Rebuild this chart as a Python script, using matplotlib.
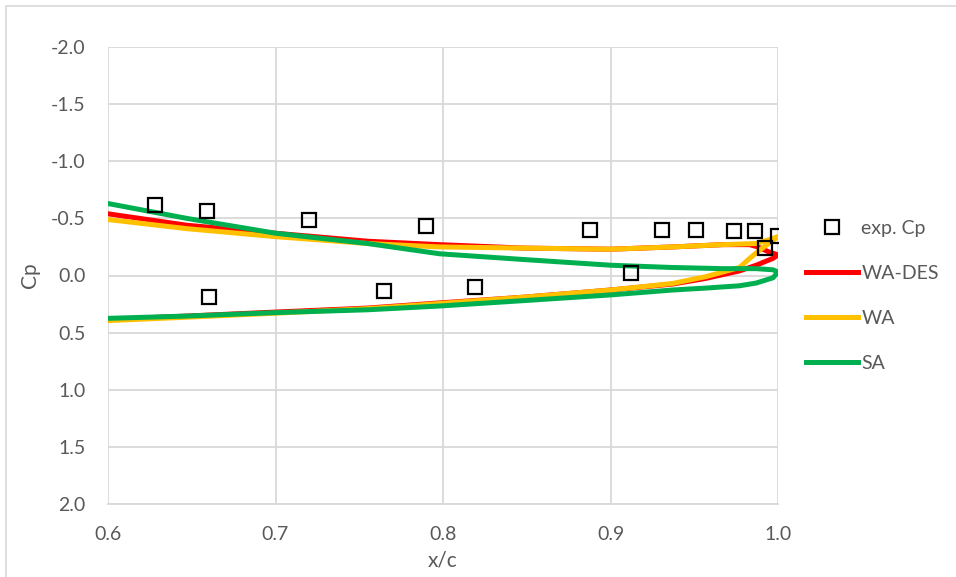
import matplotlib.pyplot as plt
from matplotlib.patches import Rectangle

plt.rcParams['font.family'] = ['Lato', 'DejaVu Sans']

# experimental pressure coefficient
exp_x = [0.628, 0.659, 0.720, 0.790, 0.888, 0.931, 0.951, 0.974, 0.986, 0.992, 1.000,
         0.660, 0.765, 0.819, 0.912]
exp_cp = [-0.62, -0.565, -0.49, -0.435, -0.40, -0.40, -0.40, -0.39, -0.39, -0.24, -0.35,
          0.19, 0.135, 0.10, -0.02]

# CFD results, upper surface to trailing edge then back along lower surface
wades_x = [0.600, 0.647, 0.700, 0.755, 0.798, 0.848, 0.900, 0.937, 0.967, 0.983, 0.988, 0.994, 1.000,
           0.997, 0.987, 0.977, 0.957, 0.937, 0.900, 0.848, 0.798, 0.755, 0.700, 0.647, 0.600]
wades_cp = [-0.54, -0.44, -0.37, -0.30, -0.27, -0.24, -0.23, -0.25, -0.27, -0.27, -0.25, -0.21, -0.18,
            -0.15, -0.09, -0.04, 0.025, 0.075, 0.127, 0.19, 0.24, 0.285, 0.32, 0.355, 0.385]

wa_x = [0.600, 0.647, 0.700, 0.755, 0.798, 0.848, 0.900, 0.937, 0.967, 0.987, 0.994, 1.000,
        0.994, 0.988, 0.982, 0.977, 0.957, 0.937, 0.900, 0.848, 0.798, 0.755, 0.700, 0.647, 0.600]
wa_cp = [-0.49, -0.41, -0.34, -0.28, -0.25, -0.24, -0.23, -0.25, -0.27, -0.28, -0.31, -0.34,
         -0.275, -0.21, -0.136, -0.07, 0.01, 0.07, 0.127, 0.19, 0.245, 0.29, 0.33, 0.365, 0.395]

sa_x = [0.600, 0.647, 0.700, 0.755, 0.798, 0.848, 0.900, 0.937, 0.967, 0.987, 0.997, 1.000,
        0.997, 0.987, 0.977, 0.957, 0.937, 0.900, 0.848, 0.798, 0.755, 0.700, 0.647, 0.600]
sa_cp = [-0.63, -0.50, -0.37, -0.28, -0.19, -0.14, -0.09, -0.07, -0.06, -0.06, -0.05, -0.03,
         0.02, 0.066, 0.09, 0.11, 0.127, 0.17, 0.22, 0.267, 0.30, 0.325, 0.355, 0.375]

txt = '#595959'
grid = '#d9d9d9'

fig = plt.figure(figsize=(9.56, 5.77), dpi=100)
fig.patches.append(Rectangle((6 / 956, -0.1), 1.2, 1 - 6 / 577 + 0.1, transform=fig.transFigure,
                             fill=False, edgecolor=grid, linewidth=1.2))
ax = fig.add_axes([108 / 956, 1 - 504 / 577, 670 / 956, 457 / 577])

ax.plot(exp_x, exp_cp, linestyle='none', marker='s', markersize=10, markerfacecolor='none',
        markeredgecolor='black', markeredgewidth=1.6, label='exp. Cp', zorder=5)
ax.plot(wades_x, wades_cp, color='#ff0000', linewidth=3.6, label='WA-DES', solid_joinstyle='round')
ax.plot(wa_x, wa_cp, color='#ffc000', linewidth=3.6, label='WA', solid_joinstyle='round')
ax.plot(sa_x, sa_cp, color='#00b050', linewidth=3.6, label='SA', solid_joinstyle='round')

ax.set_xlim(0.6, 1.0)
ax.set_ylim(2.0, -2.0)
ax.set_xticks([0.6, 0.7, 0.8, 0.9, 1.0])
ax.set_yticks([-2.0, -1.5, -1.0, -0.5, 0.0, 0.5, 1.0, 1.5, 2.0])
ax.set_xticklabels(['0.6', '0.7', '0.8', '0.9', '1.0'])
ax.set_yticklabels(['-2.0', '-1.5', '-1.0', '-0.5', '0.0', '0.5', '1.0', '1.5', '2.0'])
ax.tick_params(axis='both', length=0, labelsize=14, labelcolor=txt)
ax.tick_params(axis='x', pad=16)
ax.tick_params(axis='y', pad=16)
ax.grid(True, color=grid, linewidth=1.3)
ax.set_axisbelow(True)
for s in ax.spines.values():
    s.set_visible(False)
ax.spines['bottom'].set_visible(True)
ax.spines['bottom'].set_color(grid)
ax.spines['bottom'].set_linewidth(1.3)

ax.set_xlabel('x/c', fontsize=15, color=txt, labelpad=5)
ax.set_ylabel('Cp', fontsize=15, color=txt, labelpad=8)

ax.legend(loc='upper left', bbox_to_anchor=(1.03, 0.639), frameon=False, fontsize=14,
          labelcolor=txt, handlelength=2.7, handletextpad=0.15, labelspacing=1.44,
          borderaxespad=0)

fig.savefig('out.png', dpi=100)
